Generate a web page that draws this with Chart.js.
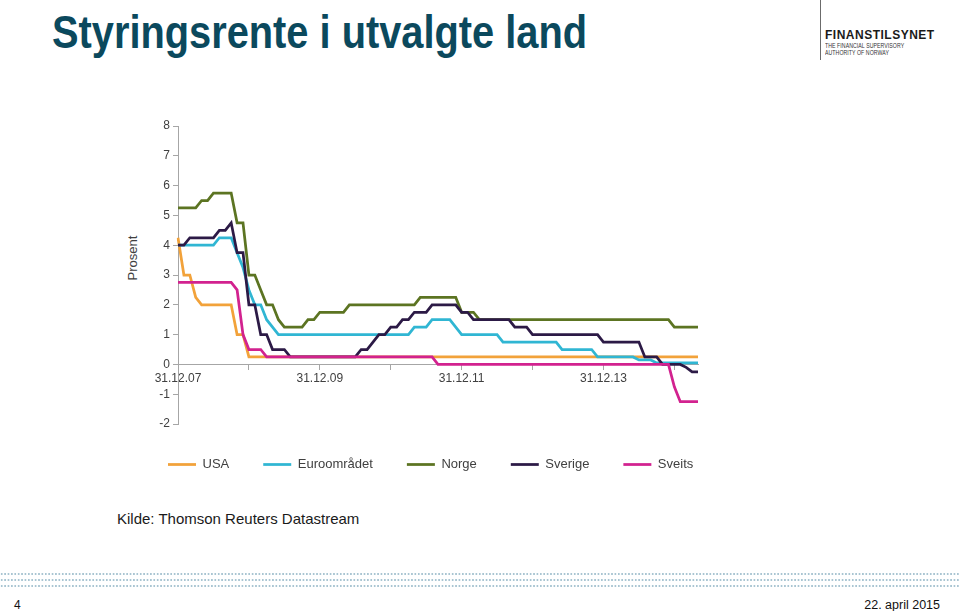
<!DOCTYPE html>
<html>
<head>
<meta charset="utf-8">
<script src="https://cdn.jsdelivr.net/npm/chart.js@4.4.1/dist/chart.umd.min.js"></script>
<style>
html,body{margin:0;padding:0;background:#fff;}
body{width:960px;height:611px;position:relative;overflow:hidden;font-family:"Liberation Sans",Arial,sans-serif;}
#title{position:absolute;left:52px;top:6px;font-size:46px;font-weight:bold;color:#0b495d;transform:scaleX(0.865);transform-origin:left top;white-space:nowrap;line-height:1.15;}
#logoLine{position:absolute;left:820px;top:0;width:1px;height:60px;background:#6b6b6b;}
#logo1{position:absolute;left:825px;top:29px;font-size:12px;font-weight:bold;color:#1a1a1a;letter-spacing:0.5px;line-height:1;}
#logo2{position:absolute;left:825px;top:42px;font-size:7px;color:#333;line-height:1.05;letter-spacing:0.1px;transform:scaleX(0.74);transform-origin:left top;white-space:nowrap;}
#prosent{position:absolute;left:132px;top:258px;transform:translate(-50%,-50%) rotate(-90deg);font-size:13px;color:#404040;white-space:nowrap;}
#chartWrap{position:absolute;left:134px;top:100px;width:626px;height:381px;}
#kilde{position:absolute;left:117px;top:511px;font-size:15px;color:#1a1a1a;line-height:1;white-space:nowrap;}
#dots{position:absolute;left:0;top:571px;width:960px;height:18px;background-image:radial-gradient(circle,#a9c5d2 0.9px,rgba(255,255,255,0) 1.2px);background-size:3.4px 6px;background-position:0 0;}
#page{position:absolute;left:14px;top:599px;font-size:12px;color:#111;line-height:1;}
#date{position:absolute;right:20px;top:599px;font-size:12.5px;color:#111;line-height:1;white-space:nowrap;}
</style>
</head>
<body>
<div id="title">Styringsrente i utvalgte land</div>
<div id="logoLine"></div>
<div id="logo1">FINANSTILSYNET</div>
<div id="logo2">THE FINANCIAL SUPERVISORY<br>AUTHORITY OF NORWAY</div>
<div id="prosent">Prosent</div>
<div id="chartWrap"><canvas id="c" width="626" height="381"></canvas></div>
<div id="kilde">Kilde: Thomson Reuters Datastream</div>
<div id="dots"></div>
<div id="page">4</div>
<div id="date">22. april 2015</div>
<script>
// Month-end observations, Dec 2007 - Apr 2015
const months = [
 '2007-12',
 '2008-01','2008-02','2008-03','2008-04','2008-05','2008-06','2008-07','2008-08','2008-09','2008-10','2008-11','2008-12',
 '2009-01','2009-02','2009-03','2009-04','2009-05','2009-06','2009-07','2009-08','2009-09','2009-10','2009-11','2009-12',
 '2010-01','2010-02','2010-03','2010-04','2010-05','2010-06','2010-07','2010-08','2010-09','2010-10','2010-11','2010-12',
 '2011-01','2011-02','2011-03','2011-04','2011-05','2011-06','2011-07','2011-08','2011-09','2011-10','2011-11','2011-12',
 '2012-01','2012-02','2012-03','2012-04','2012-05','2012-06','2012-07','2012-08','2012-09','2012-10','2012-11','2012-12',
 '2013-01','2013-02','2013-03','2013-04','2013-05','2013-06','2013-07','2013-08','2013-09','2013-10','2013-11','2013-12',
 '2014-01','2014-02','2014-03','2014-04','2014-05','2014-06','2014-07','2014-08','2014-09','2014-10','2014-11','2014-12',
 '2015-01','2015-02','2015-03','2015-04'
];
const xTickLabels = ['31.12.07','31.12.09','31.12.11','31.12.13'];
const yTicks = [8,7,6,5,4,3,2,1,0,-1,-2];

const usa = [
 4.25,
 3.0,3.0,2.25,2.0,2.0,2.0,2.0,2.0,2.0,1.0,1.0,0.25,
 0.25,0.25,0.25,0.25,0.25,0.25,0.25,0.25,0.25,0.25,0.25,0.25,
 0.25,0.25,0.25,0.25,0.25,0.25,0.25,0.25,0.25,0.25,0.25,0.25,
 0.25,0.25,0.25,0.25,0.25,0.25,0.25,0.25,0.25,0.25,0.25,0.25,
 0.25,0.25,0.25,0.25,0.25,0.25,0.25,0.25,0.25,0.25,0.25,0.25,
 0.25,0.25,0.25,0.25,0.25,0.25,0.25,0.25,0.25,0.25,0.25,0.25,
 0.25,0.25,0.25,0.25,0.25,0.25,0.25,0.25,0.25,0.25,0.25,0.25,
 0.25,0.25,0.25,0.25
];
const euro = [
 4.0,
 4.0,4.0,4.0,4.0,4.0,4.0,4.25,4.25,4.25,3.75,3.25,2.5,
 2.0,2.0,1.5,1.25,1.0,1.0,1.0,1.0,1.0,1.0,1.0,1.0,
 1.0,1.0,1.0,1.0,1.0,1.0,1.0,1.0,1.0,1.0,1.0,1.0,
 1.0,1.0,1.0,1.25,1.25,1.25,1.5,1.5,1.5,1.5,1.25,1.0,
 1.0,1.0,1.0,1.0,1.0,1.0,0.75,0.75,0.75,0.75,0.75,0.75,
 0.75,0.75,0.75,0.75,0.5,0.5,0.5,0.5,0.5,0.5,0.25,0.25,
 0.25,0.25,0.25,0.25,0.25,0.15,0.15,0.15,0.05,0.05,0.05,0.05,
 0.05,0.05,0.05,0.05
];
const norge = [
 5.25,
 5.25,5.25,5.25,5.5,5.5,5.75,5.75,5.75,5.75,4.75,4.75,3.0,
 3.0,2.5,2.0,2.0,1.5,1.25,1.25,1.25,1.25,1.5,1.5,1.75,
 1.75,1.75,1.75,1.75,2.0,2.0,2.0,2.0,2.0,2.0,2.0,2.0,
 2.0,2.0,2.0,2.0,2.25,2.25,2.25,2.25,2.25,2.25,2.25,1.75,
 1.75,1.75,1.5,1.5,1.5,1.5,1.5,1.5,1.5,1.5,1.5,1.5,
 1.5,1.5,1.5,1.5,1.5,1.5,1.5,1.5,1.5,1.5,1.5,1.5,
 1.5,1.5,1.5,1.5,1.5,1.5,1.5,1.5,1.5,1.5,1.5,1.25,
 1.25,1.25,1.25,1.25
];
const sverige = [
 4.0,
 4.0,4.25,4.25,4.25,4.25,4.25,4.5,4.5,4.75,3.75,3.75,2.0,
 2.0,1.0,1.0,0.5,0.5,0.5,0.25,0.25,0.25,0.25,0.25,0.25,
 0.25,0.25,0.25,0.25,0.25,0.25,0.5,0.5,0.75,1.0,1.0,1.25,
 1.25,1.5,1.5,1.75,1.75,1.75,2.0,2.0,2.0,2.0,2.0,1.75,
 1.75,1.5,1.5,1.5,1.5,1.5,1.5,1.5,1.25,1.25,1.25,1.0,
 1.0,1.0,1.0,1.0,1.0,1.0,1.0,1.0,1.0,1.0,1.0,0.75,
 0.75,0.75,0.75,0.75,0.75,0.75,0.25,0.25,0.25,0.0,0.0,0.0,
 0.0,-0.1,-0.25,-0.25
];
const sveits = [
 2.75,
 2.75,2.75,2.75,2.75,2.75,2.75,2.75,2.75,2.75,2.5,1.0,0.5,
 0.5,0.5,0.25,0.25,0.25,0.25,0.25,0.25,0.25,0.25,0.25,0.25,
 0.25,0.25,0.25,0.25,0.25,0.25,0.25,0.25,0.25,0.25,0.25,0.25,
 0.25,0.25,0.25,0.25,0.25,0.25,0.25,0.0,0.0,0.0,0.0,0.0,
 0.0,0.0,0.0,0.0,0.0,0.0,0.0,0.0,0.0,0.0,0.0,0.0,
 0.0,0.0,0.0,0.0,0.0,0.0,0.0,0.0,0.0,0.0,0.0,0.0,
 0.0,0.0,0.0,0.0,0.0,0.0,0.0,0.0,0.0,0.0,0.0,-0.75,
 -1.25,-1.25,-1.25,-1.25
];

const seriesNames = ['USA','Euroområdet','Norge','Sverige','Sveits'];
const seriesData = [usa, euro, norge, sverige, sveits];
const seriesColors = ['#F2A23A','#30B6D3','#5C7422','#2C1A46','#D2228F'];

const FONT = '"Liberation Sans", Arial, sans-serif';
const AXIS = '#a6a6a6';
const TXT = '#404040';

new Chart(document.getElementById('c'), {
  type: 'line',
  data: {
    labels: months,
    datasets: seriesNames.map((name, i) => ({
      label: name,
      data: seriesData[i],
      borderColor: seriesColors[i],
      backgroundColor: seriesColors[i],
      borderWidth: 2.75,
      pointRadius: 0,
      pointStyle: 'line',
      tension: 0,
      fill: false,
      order: seriesNames.length - i
    }))
  },
  options: {
    responsive: false,
    animation: false,
    layout: { padding: { left: 0, right: 0, top: 26, bottom: 0 } },
    plugins: {
      tooltip: { enabled: false },
      legend: {
        position: 'bottom',
        align: 'start',
        labels: {
          usePointStyle: true,
          pointStyle: 'line',
          pointStyleWidth: 28,
          padding: 34,
          color: TXT,
          font: { family: FONT, size: 13 },
          sort: (a, b) => a.datasetIndex - b.datasetIndex
        }
      }
    },
    scales: {
      x: {
        type: 'category',
        position: { y: 0 },
        grid: { drawOnChartArea: false, drawTicks: true, tickLength: 5, color: AXIS },
        border: { color: AXIS, width: 1 },
        afterBuildTicks: (s) => { s.ticks = s.ticks.filter(t => t.value % 12 === 0); },
        ticks: {
          autoSkip: false, maxRotation: 0, color: TXT, padding: 2,
          font: { family: FONT, size: 12 },
          callback: (v) => (v % 24 === 0 ? xTickLabels[v / 24] : '')
        }
      },
      y: {
        min: -2, max: 8,
        afterBuildTicks: (s) => { s.ticks = yTicks.map(v => ({ value: v })); },
        afterFit: (s) => { s.width = 44; },
        grid: { drawOnChartArea: false, drawTicks: true, tickLength: 5, color: AXIS },
        border: { color: AXIS, width: 1 },
        ticks: { color: TXT, padding: 3, font: { family: FONT, size: 12 } }
      },
      spacer: {
        type: 'linear',
        position: 'right',
        display: true,
        min: 0, max: 1,
        afterFit: (s) => { s.width = 62; },
        grid: { display: false, drawTicks: false },
        border: { display: false },
        ticks: { display: false }
      }
    }
  }
});
</script>
</body>
</html>
